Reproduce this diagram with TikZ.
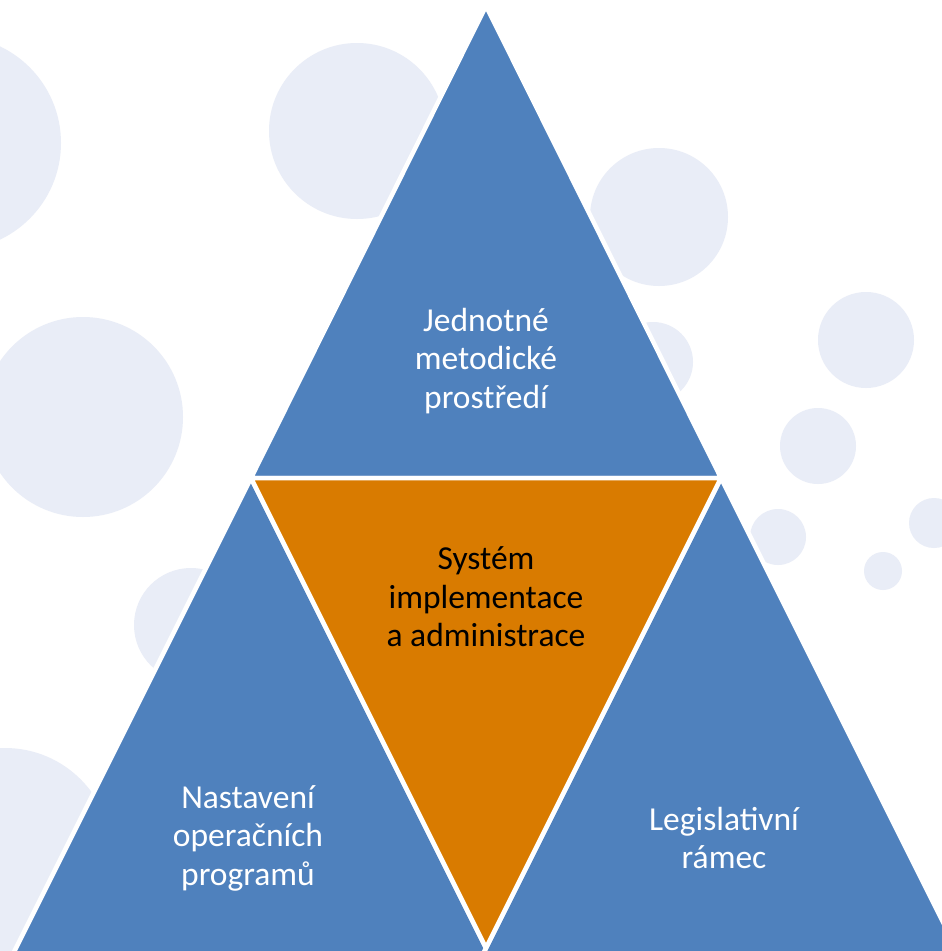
\documentclass[tikz,border=0pt]{standalone}
\usepackage{fontspec}
\setmainfont{Carlito}
\definecolor{triblue}{HTML}{4F81BD}
\definecolor{triorange}{HTML}{D97B00}
\definecolor{bubble}{HTML}{E9EDF7}
\begin{document}
\begin{tikzpicture}[x=1pt,y=-1pt,
  tri/.style={line width=4.5pt, draw=white, line join=miter},
  bub/.style={fill=bubble},
  lbl/.style={align=center, font=\fontsize{33.5}{38.5}\selectfont, inner sep=0pt}]
\useasboundingbox (0,0) rectangle (942,951);
\begin{scope}
\clip (0,0) rectangle (942,951);
\fill[white] (0,0) rectangle (942,951);
% background bubbles
\foreach \cx/\cy/\r in {-46/143/107, 357/131/88, 83/417/100, 659/217/69,
  653/362/40, 866/340/48, 818/446/38, 778/537/28, 883/571/19, 934/523/25,
  191/625/57, 5/855/107}
  \fill[bubble] (\cx,\cy) circle[radius=\r];
% triangles
\path[tri, fill=triblue, line join=round] (486,6) -- (251,478) -- (721,478) -- cycle;
\path[tri, fill=triblue] (251,478) -- (5,970) -- (497,970) -- cycle;
\path[tri, fill=triblue] (721,478) -- (475,970) -- (967,970) -- cycle;
\path[tri, fill=triorange] (251,478) -- (721,478) -- (486,948) -- cycle;
\end{scope}
% labels
\node[lbl, text=white] (top) at (486,361) {Jednotné\\metodické\\prostředí};
\node[lbl, text=black] (mid) at (486,597) {Systém\\implementace\\a administrace};
\node[lbl, text=white] (left) at (248,838) {Nastavení\\operačních\\programů};
\node[lbl, text=white] (right) at (724,838) {Legislativní\\rámec};
\end{tikzpicture}
\end{document}
